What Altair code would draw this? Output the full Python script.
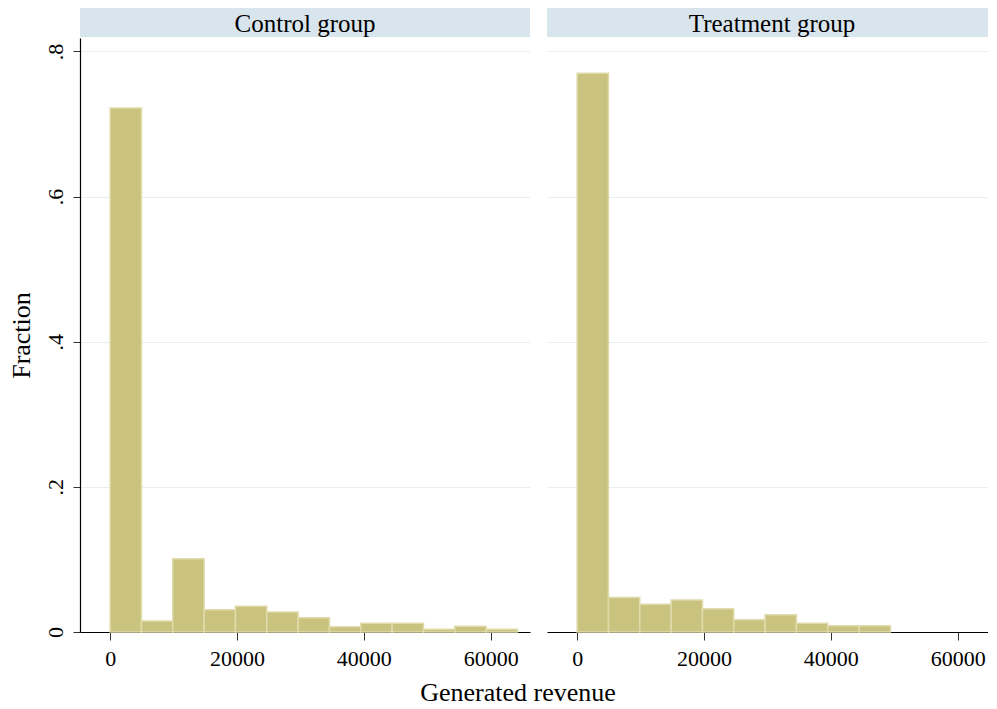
import altair as alt
import pandas as pd

# Histogram data (fraction per bin), bins of equal width starting at 0
bin_width = 4940
control_fractions = [0.722, 0.0152, 0.101, 0.0308, 0.0354, 0.0276, 0.0198,
                     0.0074, 0.012, 0.012, 0.0037, 0.0078, 0.0037]
treatment_fractions = [0.770, 0.0474, 0.0382, 0.0441, 0.0322, 0.0170, 0.0239,
                       0.012, 0.0087, 0.0087]
panels = ["Control group", "Treatment group"]
x_ticks = [0, 20000, 40000, 60000]
y_ticks = [0, 0.2, 0.4, 0.6, 0.8]

FONT = "Liberation Serif"
BAR_FILL = "#cac27f"
BAR_EDGE = "#e0dbab"
HEADER_BG = "#d9e5ec"
GRID = "#e8eff1"

X_MIN = -4750
X_SPAN_PER_PX = 70950 / 450
Y_DOMAIN = [0, 0.8186]
PLOT_H = 594
HEAD_H = 29


def make_df(fracs):
    return pd.DataFrame({
        "start": [i * bin_width for i in range(len(fracs))],
        "end": [(i + 1) * bin_width for i in range(len(fracs))],
        "fraction": fracs,
    })


def panel(name, fracs, width, first):
    df = make_df(fracs)
    x_domain = [X_MIN, X_MIN + width * X_SPAN_PER_PX]
    if first:
        yaxis = alt.Axis(
            values=y_ticks, title="Fraction", grid=True, gridColor=GRID,
            gridWidth=1, labelAngle=270, labelAlign="center",
            labelBaseline="bottom", labelFont=FONT, labelFontSize=22,
            labelColor="black", labelPadding=6, titleFont=FONT,
            titleFontSize=26, titleFontWeight="normal", titleColor="black",
            titlePadding=10, tickSize=7, tickColor="#333333",
            domainColor="black", domainWidth=1.2,
            labelExpr="datum.value == 0 ? '0' : replace(format(datum.value, '.1f'), '0.', '.')",
        )
    else:
        yaxis = alt.Axis(
            values=y_ticks, title=None, grid=True, gridColor=GRID, gridWidth=1,
            labels=False, ticks=False, domain=False,
        )
    xaxis = alt.Axis(
        values=x_ticks, title=None, grid=False, format="d",
        labelFont=FONT, labelFontSize=22, labelColor="black", labelPadding=8,
        tickSize=8, tickColor="#333333", domainColor="black", domainWidth=1.2,
        labelFlush=False,
    )
    bars = alt.Chart(df).mark_rect(
        fill=BAR_FILL, stroke=BAR_EDGE, strokeWidth=1.5
    ).encode(
        x=alt.X("start:Q", scale=alt.Scale(domain=x_domain, nice=False, zero=False), axis=xaxis),
        x2="end:Q",
        y=alt.Y("fraction:Q", scale=alt.Scale(domain=Y_DOMAIN, nice=False), axis=yaxis),
        y2=alt.datum(0),
    ).properties(width=width, height=PLOT_H)

    hdf = pd.DataFrame({"label": [name]})
    head_rect = alt.Chart(hdf).mark_rect(color=HEADER_BG).encode(
        x=alt.value(0), x2=alt.value(width), y=alt.value(0), y2=alt.value(HEAD_H)
    )
    head_text = alt.Chart(hdf).mark_text(
        font=FONT, fontSize=25, color="black", baseline="middle", align="center"
    ).encode(x=alt.value(450 / 2), y=alt.value(HEAD_H / 2 + 1), text="label:N")
    header = alt.layer(head_rect, head_text).properties(width=width, height=HEAD_H)
    return alt.vconcat(header, bars, spacing=1)


left = panel(panels[0], control_fractions, 450, True)
right = panel(panels[1], treatment_fractions, 441, False)

chart = alt.hconcat(left, right, spacing=17).properties(
    padding={"left": 0, "top": 0, "right": 0, "bottom": 0},
    title=alt.TitleParams(
        "Generated revenue", orient="bottom", anchor="middle", font=FONT,
        fontSize=26, fontWeight="normal", color="black", offset=11, dx=20,
    ),
).configure_view(stroke=None).configure_concat(spacing=17)

chart.save("out.html", embed_options={"renderer": "svg", "actions": False})
